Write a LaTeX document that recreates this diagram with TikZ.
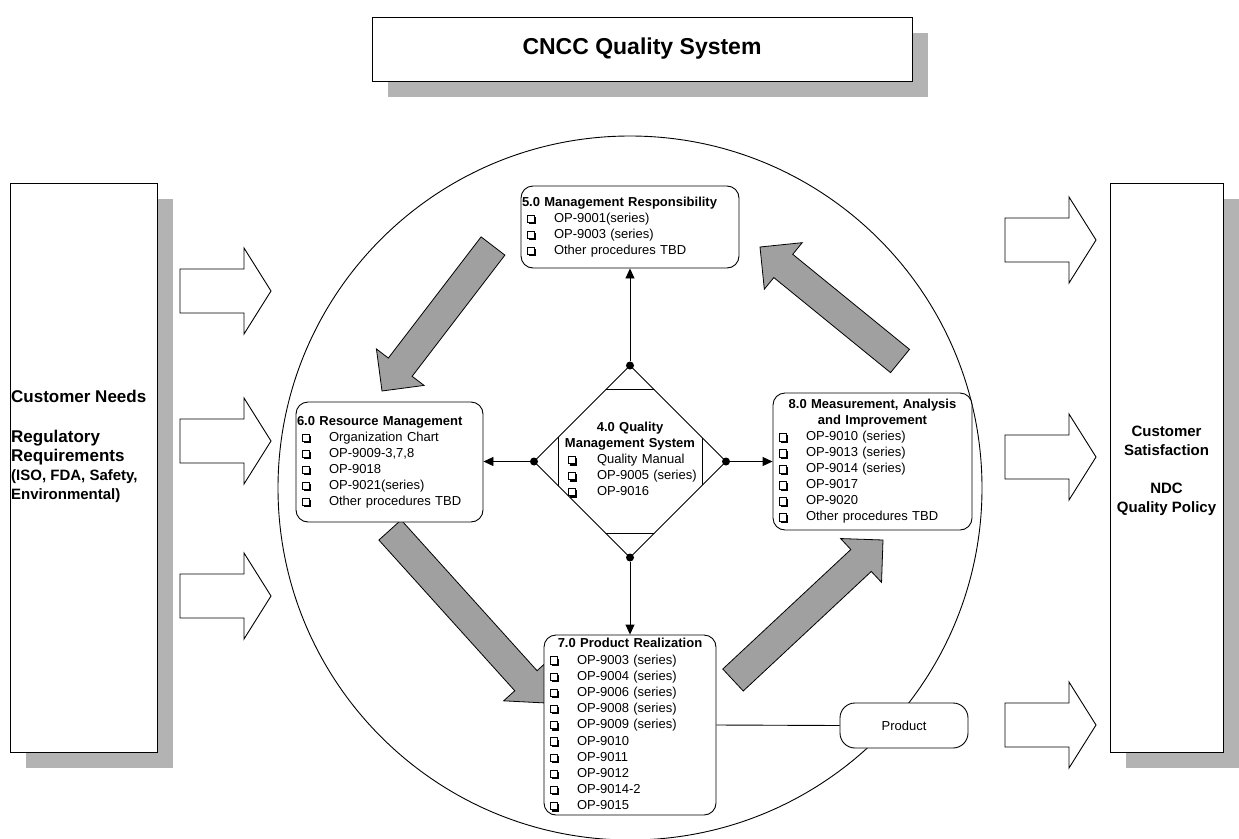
\documentclass[tikz,border=0pt]{standalone}
\usepackage{fontspec}
\setmainfont{Liberation Sans}
\usetikzlibrary{calc,shadows,arrows.meta}
\definecolor{shadowgray}{HTML}{B3B3B3}
\definecolor{arrowgray}{HTML}{A0A0A0}
\newcommand\cbx{\tikz[baseline=0pt,x=1pt,y=1pt,sharp corners]{\fill[black] (1.8,-1.8) rectangle (9,5.4); \draw[line width=0.7pt,fill=white,sharp corners] (0,0) rectangle (7.2,7.2);}}
\newcommand\itm[1]{\hspace*{5pt}\makebox[27pt][l]{\cbx}#1}
\newcommand\ditm[1]{\hspace*{8pt}\makebox[29pt][l]{\cbx}#1}
\newcommand\ctr[1]{\hfill\textbf{#1}\hfill\null}
\newcommand\wArrow[2]{\draw[warrow] (#1,#2-22) -- (#1+64,#2-22) -- (#1+64,#2-43) -- (#1+91,#2) -- (#1+64,#2+43) -- (#1+64,#2+22) -- (#1,#2+22) -- cycle;}
\newcommand\gArrow[2]{%
  \path ($(#2)!30pt!(#1)$) coordinate (tmpB);
  \draw[garrow] ($(#1)!15pt!90:(#2)$) -- ($(tmpB)!15pt!90:(#2)$) -- ($(tmpB)!30pt!90:(#2)$) -- (#2)
    -- ($(tmpB)!30pt!-90:(#2)$) -- ($(tmpB)!15pt!-90:(#2)$) -- ($(#1)!15pt!-90:(#2)$) -- cycle;}
\tikzset{
  shbox/.style={draw, fill=white, line width=0.9pt, inner sep=0pt,
    drop shadow={shadow xshift=16pt, shadow yshift=-16pt, fill=shadowgray, opacity=1}},
  pbox/.style={draw, fill=white, rounded corners=12pt, line width=0.9pt, inner xsep=1pt, inner ysep=0pt,
    align=left, font=\fontsize{13}{16}\selectfont},
  warrow/.style={draw, fill=white, line width=0.9pt},
  garrow/.style={draw, fill=arrowgray, line width=0.8pt},
  conn/.style={line width=0.9pt, -{Triangle[length=10pt,width=9pt]}},
  dot/.style={circle, fill=black, inner sep=0pt, minimum size=8pt},
}
\begin{document}
\begin{tikzpicture}[x=1pt,y=-1pt]
\useasboundingbox (0,0) rectangle (1239,838);

% title
\node[shbox, minimum width=540pt, minimum height=64pt, font=\bfseries\fontsize{23}{27}\selectfont] (title) at (642,49) {CNCC Quality System};

% side boxes
\node[shbox, minimum width=147pt, minimum height=569pt] (lbox) at (83.5,467.5) {};
\node[anchor=west, inner sep=1pt, align=left, font=\bfseries\fontsize{17}{19}\selectfont] (ltext) at (10,446.5)
  {Customer Needs\\[21pt]Regulatory\\Requirements\\{\fontsize{15}{19}\selectfont(ISO, FDA, Safety,}\\{\fontsize{15}{19}\selectfont Environmental)}};
\node[shbox, minimum width=113pt, minimum height=569pt] (rbox) at (1166.5,467.5) {};
\node[align=center, inner sep=0pt, font=\bfseries\fontsize{15}{19}\selectfont] (rtext) at (1166.5,471)
  {Customer\\Satisfaction\\[19pt]NDC\\Quality Policy};

% white block arrows
\wArrow{180}{291}
\wArrow{180}{441}
\wArrow{180}{596}
\wArrow{1005}{240}
\wArrow{1005}{457}
\wArrow{1005}{725}

% circle
\node[circle, draw, line width=0.9pt, minimum size=704pt, inner sep=0pt] (circ) at (630,488) {};

% gray process arrows
\coordinate (a1t) at (493,246); \coordinate (a1h) at (382,391);
\coordinate (a2t) at (390,530); \coordinate (a2h) at (546,703);
\coordinate (a3t) at (733,680); \coordinate (a3h) at (883,540);
\coordinate (a4t) at (900,361); \coordinate (a4h) at (760,247);
\gArrow{a1t}{a1h}
\gArrow{a2t}{a2h}
\gArrow{a3t}{a3h}
\gArrow{a4t}{a4h}

% process boxes
\node[pbox, minimum width=218pt, minimum height=82pt, text width=216pt] (b5) at (630,227)
  {\textbf{5.0 Management Responsibility}\\\itm{OP-9001(series)}\\\itm{OP-9003 (series)}\\\itm{Other procedures TBD}};
\node[pbox, minimum width=187pt, minimum height=120pt, text width=185pt] (b6) at (389.5,462)
  {\textbf{6.0 Resource Management}\\\itm{Organization Chart}\\\itm{OP-9009-3,7,8}\\\itm{OP-9018}\\\itm{OP-9021(series)}\\\itm{Other procedures TBD}};
\node[pbox, minimum width=199pt, minimum height=137pt, text width=197pt] (b8) at (872.5,461.5)
  {\ctr{8.0 Measurement, Analysis}\\\ctr{and Improvement}\\\itm{OP-9010 (series)}\\\itm{OP-9013 (series)}\\\itm{OP-9014 (series)}\\\itm{OP-9017}\\\itm{OP-9020}\\\itm{Other procedures TBD}};
\node[pbox, minimum width=172pt, minimum height=180pt, text width=170pt, font=\fontsize{13}{16.2}\selectfont] (b7) at (630,725)
  {\ctr{7.0 Product Realization}\\\itm{OP-9003 (series)}\\\itm{OP-9004 (series)}\\\itm{OP-9006 (series)}\\\itm{OP-9008 (series)}\\\itm{OP-9009 (series)}\\\itm{OP-9010}\\\itm{OP-9011}\\\itm{OP-9012}\\\itm{OP-9014-2}\\\itm{OP-9015}};
\node[draw, fill=white, rounded corners=15pt, line width=0.9pt, minimum width=128pt, minimum height=45pt, font=\fontsize{13}{16}\selectfont] (prod) at (904,725.5) {Product};

% quality management system diamond
\coordinate (qT) at (630,365.5); \coordinate (qR) at (726,461.5);
\coordinate (qB) at (630,557.5); \coordinate (qL) at (534,461.5);
\draw[line width=0.9pt, fill=white] (qT) -- (qR) -- (qB) -- (qL) -- cycle;
\begin{scope}
  \clip (qT) -- (qR) -- (qB) -- (qL) -- cycle;
  \draw[line width=0.9pt] (558,389.5) rectangle (702,533.5);
\end{scope}
\node[align=left, text width=140pt, inner sep=0pt, font=\fontsize{13}{16}\selectfont] (qms) at (630,460)
  {\ctr{4.0 Quality}\\\ctr{Management System}\\\ditm{Quality Manual}\\\ditm{OP-9005 (series)}\\\ditm{OP-9016}};
\node[dot] (dtop) at (qT) {};
\node[dot] (dbot) at (qB) {};
\node[dot] (dleft) at (qL) {};
\node[dot] (dright) at (qR) {};

% connectors
\draw[conn] (dtop) -- (dtop |- b5.south);
\draw[conn] (dbot) -- (dbot |- b7.north);
\draw[conn] (dleft) -- (dleft -| b6.east);
\draw[conn] (dright) -- (dright -| b8.west);
\draw[line width=0.9pt] (b7.east) -- (prod.west);
\end{tikzpicture}
\end{document}
